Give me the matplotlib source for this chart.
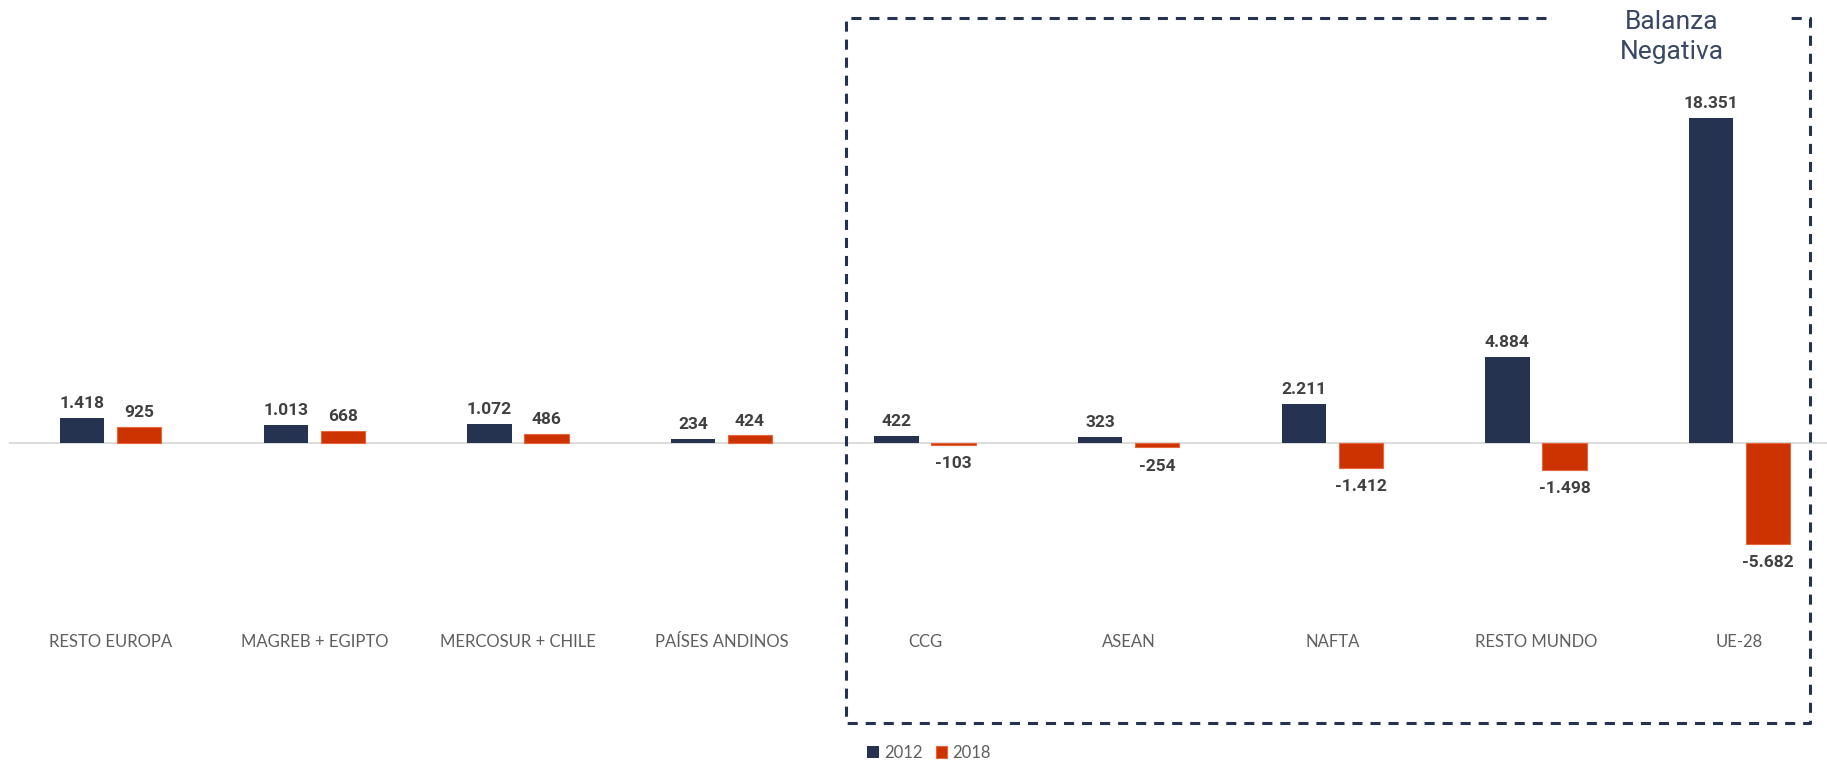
import numpy as np
import matplotlib.pyplot as plt
from matplotlib.lines import Line2D

# Datos
categorias = ['RESTO EUROPA', 'MAGREB + EGIPTO', 'MERCOSUR + CHILE', 'PAÍSES ANDINOS',
              'CCG', 'ASEAN', 'NAFTA', 'RESTO MUNDO', 'UE-28']
valores_2012 = [1418, 1013, 1072, 234, 422, 323, 2211, 4884, 18351]
valores_2018 = [925, 668, 486, 424, -103, -254, -1412, -1498, -5682]

azul = '#253350'
rojo = '#CC3300'
gris = '#5F5F5F'

W, H = 1827, 763
fig = plt.figure(figsize=(W / 100, H / 100), dpi=100)
ax = fig.add_axes([9 / W, 0, 1 - 9 / W, 1])

x = np.arange(len(categorias))
ancho = 0.218
desp = 0.14
b1 = ax.bar(x - desp, valores_2012, ancho, color=azul, label='2012', zorder=2)
b2 = ax.bar(x + desp, valores_2018, ancho, color=rojo, label='2018', zorder=2,
            edgecolor='#E8643C', linewidth=0.8)

ax.set_xlim(-0.5, 8.43)
ax.set_ylim(-18069, 25014)
ax.axhline(0, color='#D9D9D9', lw=1.3, zorder=1)
ax.axis('off')


def fmt(v):
    return f'{v:,}'.replace(',', '.')


for barras in (b1, b2):
    for rect in barras:
        v = rect.get_height()
        cx = rect.get_x() + rect.get_width() / 2
        if v >= 0:
            ax.annotate(fmt(int(v)), (cx, v), xytext=(0, 5), textcoords='offset points',
                        ha='center', va='bottom', fontsize=12.5, fontweight='bold',
                        color='#404040', family='Roboto')
        else:
            ax.annotate(fmt(int(v)), (cx, v), xytext=(0, -8), textcoords='offset points',
                        ha='center', va='top', fontsize=12.5, fontweight='bold',
                        color='#404040', family='Roboto')

# Etiquetas de categorías
for i, c in enumerate(categorias):
    ax.text(i, 1 - 642 / H, c, transform=ax.get_xaxis_transform(), ha='center', va='center',
            fontsize=12, color=gris, family='Lato')

# Recuadro discontinuo
px = [1546, 846, 846, 1810, 1810, 1787]
py = [17.5, 17.5, 722.7, 722.7, 17.5, 17.5]
fig.add_artist(Line2D([p / W for p in px], [1 - p / H for p in py], transform=fig.transFigure,
                      color=azul, lw=2.2, linestyle=(0, (3.3, 2.6))))

fig.text(1672 / W, 1 - 22 / H, 'Balanza', ha='center', va='center', fontsize=19,
         color='#3A4866', family='Roboto')
fig.text(1672 / W, 1 - 52 / H, 'Negativa', ha='center', va='center', fontsize=19,
         color='#3A4866', family='Roboto')

fig.legend(handles=[b1, b2], loc='center', bbox_to_anchor=(929 / W, 1 - 753 / H), ncol=2,
           frameon=False, handlelength=0.7, handleheight=0.7, handletextpad=0.3,
           columnspacing=0.8, prop={'family': 'Lato', 'size': 12}, labelcolor=gris)

fig.savefig('out.png', dpi=100)
